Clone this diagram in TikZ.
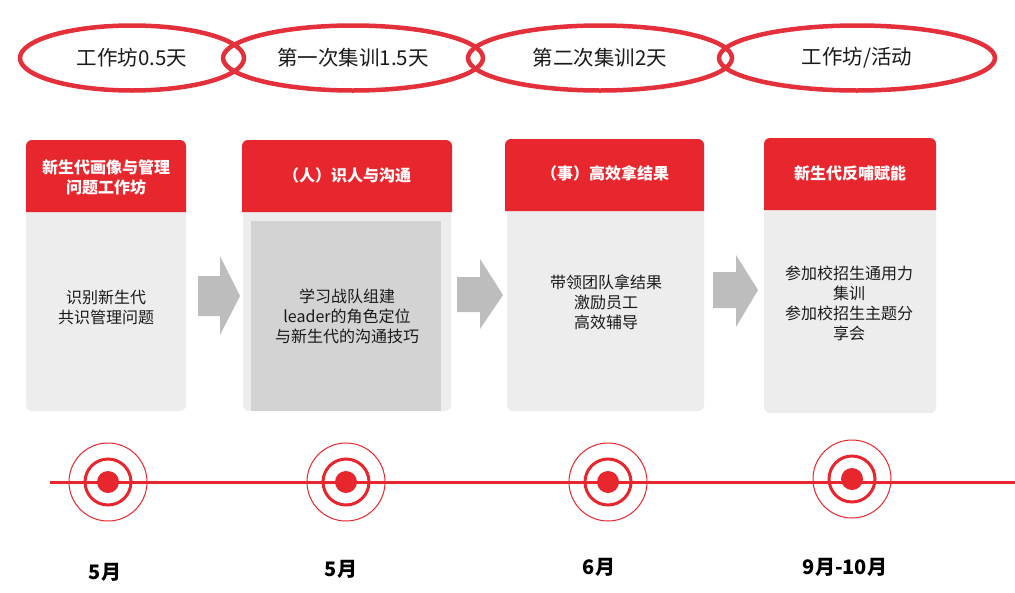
\documentclass[tikz,border=0pt]{standalone}
\usepackage{fontspec}
\setmainfont{Noto Sans CJK SC}
\usetikzlibrary{shapes.geometric}
\definecolor{cred}{HTML}{E8262E}
\definecolor{ered}{HTML}{E3303A}
\definecolor{cardbg}{HTML}{EDEDED}
\definecolor{innerbg}{HTML}{D3D3D3}
\definecolor{arrowgrey}{HTML}{BDBDBD}
\definecolor{txt}{HTML}{1A1A1A}
\tikzset{
  phase/.style={ellipse, draw=ered, line width=4.5pt, inner sep=0pt, text=txt,
    font=\fontsize{20.5}{22}\selectfont},
  cardbody/.style={fill=cardbg, rounded corners=6pt},
  hdr/.style={fill=cred},
  hdrtext/.style={text=white, align=center, font=\fontsize{16}{20}\selectfont\bfseries},
  bodytext/.style={text=txt, align=center, font=\fontsize{16}{20}\selectfont},
  flowarrow/.style={fill=arrowgrey},
  tline/.style={draw=cred, line width=3pt},
  dot/.style={circle, fill=cred, minimum size=22pt, inner sep=0pt},
  ringmid/.style={circle, draw=cred, line width=3pt, minimum size=46pt, inner sep=0pt},
  ringout/.style={circle, draw=cred, line width=1pt, minimum size=78pt, inner sep=0pt},
  month/.style={text=black, font=\fontsize{20}{22}\selectfont\bfseries},
}
\begin{document}
\begin{tikzpicture}[x=1pt,y=-1pt]
\useasboundingbox[fill=white] (0,0) rectangle (1015,592);

% phase ellipses
\node[phase, minimum width=224pt, minimum height=65pt] (e1) at (132,58) {工作坊0.5天};
\node[phase, minimum width=260pt, minimum height=65pt] (e2) at (353,58) {第一次集训1.5天};
\node[phase, minimum width=264pt, minimum height=65pt] (e3) at (600,58) {第二次集训2天};
\node[phase, minimum width=276pt, minimum height=65pt] (e4) at (857,58) {工作坊/活动};

% cards
\fill[cardbody] (26,140) rectangle (186,411);
\fill[hdr] (26,212) [rounded corners=6pt] -- (26,140) -- (186,140) [sharp corners] -- (186,212) -- cycle;
\node[hdrtext] (h1) at (106,177) {新生代画像与管理\\问题工作坊};
\node[bodytext] (b1) at (106,307) {识别新生代\\共识管理问题};

\fill[cardbody] (243,140) rectangle (451,411);
\fill[hdr] (242,212) [rounded corners=6pt] -- (242,140) -- (452,140) [sharp corners] -- (452,212) -- cycle;
\fill[innerbg] (251,221) rectangle (441,411);
\node[hdrtext] (h2) at (347,175) {（人）识人与沟通};
\node[bodytext] (b2) at (347,316) {学习战队组建\\leader的角色定位\\与新生代的沟通技巧};

\fill[cardbody] (507,139) rectangle (704,411);
\fill[hdr] (505,211) [rounded corners=6pt] -- (505,139) -- (704,139) [sharp corners] -- (704,211) -- cycle;
\node[hdrtext] (h3) at (605,173) {（事）高效拿结果};
\node[bodytext] (b3) at (606,302) {带领团队拿结果\\激励员工\\高效辅导};

\fill[cardbody] (764,138) rectangle (936,413);
\fill[hdr] (764,210) [rounded corners=6pt] -- (764,138) -- (936,138) [sharp corners] -- (936,210) -- cycle;
\node[hdrtext] (h4) at (850,173) {新生代反哺赋能};
\node[bodytext] (b4) at (849,303) {参加校招生通用力\\集训\\参加校招生主题分\\享会};

% flow arrows
\fill[flowarrow] (198,276) -- (220,276) -- (220,256) -- (240,296) -- (220,335) -- (220,316) -- (198,316) -- cycle;
\fill[flowarrow] (457,277) -- (480,277) -- (480,259) -- (503,295) -- (480,329) -- (480,312) -- (457,312) -- cycle;
\fill[flowarrow] (713,272) -- (736,272) -- (736,255) -- (758,290) -- (736,327) -- (736,308) -- (713,308) -- cycle;

% timeline
\coordinate (tl0) at (50,482);
\coordinate (tl1) at (1015,482);
\draw[tline] (tl0) -- (tl1);

\foreach \i/\x/\y in {1/108/482, 2/346/482, 3/608/482, 4/852/479} {
  \node[ringout] (o\i) at (\x,\y) {};
  \node[ringmid] (m\i) at (\x,\y) {};
  \node[dot] (d\i) at (\x,\y) {};
}

\node[month] (t1) at (105,572) {5月};
\node[month] (t2) at (341,569) {5月};
\node[month] (t3) at (599,567) {6月};
\node[month] (t4) at (845,567) {9月-10月};
\end{tikzpicture}
\end{document}
